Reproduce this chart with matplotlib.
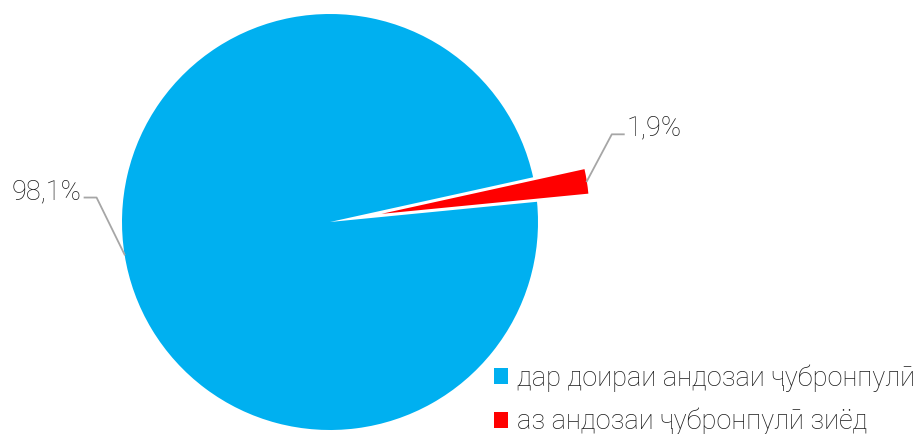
import numpy as np
import matplotlib
matplotlib.use('Agg')
import matplotlib.pyplot as plt

plt.rcParams['font.family'] = ['Roboto', 'DejaVu Sans']

labels = ['аз андозаи ҷубронпулӣ зиёд', 'дар доираи андозаи ҷубронпулӣ']
values = [1.9, 98.1]
pct_text = ['1,9%', '98,1%']
colors = ['#FF0000', '#00B0F0']

W, H = 915, 434
fig = plt.figure(figsize=(W / 100, H / 100), dpi=100)
ax = fig.add_axes([0, 0, 1, 1])

cx, cy, r = 330, H - 222, 208
red_mid = 9.0
start = red_mid - values[0] / 100 * 360 / 2

wedges, _ = ax.pie(values, colors=colors, center=(cx, cy), radius=r,
                   startangle=start, explode=[52, 0], frame=True,
                   wedgeprops=dict(linewidth=0))
ax.set_xlim(0, W)
ax.set_ylim(0, H)
ax.axis('off')

# leader lines and labels
for w, txt in zip(wedges, pct_text):
    mid = np.deg2rad((w.theta1 + w.theta2) / 2)
    x0 = w.center[0] + w.r * np.cos(mid)
    y0 = w.center[1] + w.r * np.sin(mid)
    if np.cos(mid) > 0:
        ex, ey = x0 + 25, y0 + 47
        hx = ex + 12
        ax.plot([x0, ex, hx], [y0, ey, ey], color='#A6A6A6', lw=1.3)
        ax.text(hx + 3, ey + 6, txt, ha='left', va='center', fontsize=19.5,
                fontweight='light', color='#1a1a1a')
    else:
        ex, ey = x0 - 28, y0 + 57
        hx = ex - 12
        ax.plot([x0, ex, hx], [y0, ey, ey], color='#A6A6A6', lw=1.3)
        ax.text(hx - 3, ey + 6, txt, ha='right', va='center', fontsize=19.5,
                fontweight='light', color='#1a1a1a')

leg = ax.legend(wedges[::-1], labels[::-1], loc='upper left',
                bbox_to_anchor=(494 / W, 1 - 364 / H), frameon=False,
                handlelength=0.52, handleheight=0.52, handletextpad=0.33,
                labelspacing=0.6, borderpad=0, borderaxespad=0,
                prop=dict(size=19.5, weight='light'))
for t in leg.get_texts():
    t.set_color('#1a1a1a')

plt.savefig('out.png', dpi=100)
